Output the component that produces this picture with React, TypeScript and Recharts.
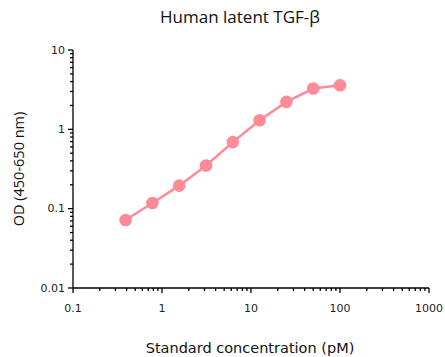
import React from 'react'
import { LineChart, Line, XAxis, YAxis, Label } from 'recharts'

// standard curve, log-log
const concentrations = [0.39, 0.78, 1.5625, 3.125, 6.25, 12.5, 25, 50, 100]
const odValues = [0.072, 0.118, 0.195, 0.35, 0.69, 1.3, 2.22, 3.27, 3.6]

const xMajorTicks = [0.1, 1, 10, 100, 1000]
const yMajorTicks = [0.01, 0.1, 1, 10]
const xTickLabels = ['0.1', '1', '10', '100', '1000']
const yTickLabels = ['0.01', '0.1', '1', '10']

const PINK = '#ff8a98'
const AXIS_FONT = '"DejaVu Sans", Verdana, sans-serif'

// minor ticks between each pair of decades (2..9 x decade)
function withMinors(majors: number[]): number[] {
  const out: number[] = []
  majors.forEach((m, i) => {
    out.push(m)
    if (i < majors.length - 1) {
      for (let k = 2; k <= 9; k++) out.push(+(m * k).toPrecision(3))
    }
  })
  return out
}

const data = concentrations.map((c, i) => ({ conc: c, od: odValues[i] }))

function labelFor(v: number, majors: number[], labels: string[]): string | null {
  const idx = majors.findIndex((m) => Math.abs(m - v) / m < 1e-6)
  return idx >= 0 ? labels[idx] : null
}

function XTick(props: any) {
  const { x, y, payload } = props
  const lbl = labelFor(payload.value, xMajorTicks, xTickLabels)
  const len = lbl ? 5 : 3
  return (
    <g>
      <line x1={x} y1={y} x2={x} y2={y + len} stroke="#000" strokeWidth={1.3} />
      {lbl && (
        <text x={x} y={y + 24} textAnchor="middle" fontSize={11} fontFamily={AXIS_FONT} fill="#222">
          {lbl}
        </text>
      )}
    </g>
  )
}

function YTick(props: any) {
  const { x, y, payload } = props
  const lbl = labelFor(payload.value, yMajorTicks, yTickLabels)
  const len = lbl ? 5 : 3
  return (
    <g>
      <line x1={x} y1={y} x2={x - len} y2={y} stroke="#000" strokeWidth={1.3} />
      {lbl && (
        <text x={x - 8} y={y} textAnchor="end" dominantBaseline="central" fontSize={11} fontFamily={AXIS_FONT} fill="#222">
          {lbl}
        </text>
      )}
    </g>
  )
}

function YTitle() {
  return (
    <text
      x={18}
      y={169}
      transform="rotate(-90, 18, 169)"
      textAnchor="middle"
      dominantBaseline="central"
      fontSize={14.5}
      fontFamily='"Open Sans", sans-serif'
      fill="#111"
    >
      OD (450-650 nm)
    </text>
  )
}

function XTitle() {
  return (
    <text x={250} y={348} textAnchor="middle" dominantBaseline="central" fontSize={14.5} fontFamily={AXIS_FONT} fill="#111">
      Standard concentration (pM)
    </text>
  )
}

export default function App(): React.ReactElement {
  return (
    <div style={{ position: 'absolute', left: 0, top: 0, width: 445, height: 357, background: '#fff' }}>
      <div
        style={{
          position: 'absolute',
          left: 0,
          top: 5,
          width: 480,
          textAlign: 'center',
          fontFamily: '"Open Sans", sans-serif',
          fontSize: 17,
          color: '#111',
        }}
      >
        Human latent TGF-β
      </div>
      <LineChart width={445} height={357} data={data} margin={{ top: 50, right: 16, bottom: 0, left: 0 }}>
        <XAxis
          dataKey="conc"
          type="number"
          scale="log"
          domain={[0.1, 1000]}
          ticks={withMinors(xMajorTicks)}
          interval={0}
          allowDataOverflow
          height={69}
          tickSize={0}
          tickMargin={0}
          tickLine={false}
          tick={<XTick />}
          axisLine={{ stroke: '#000', strokeWidth: 1.3 }}
        >
          <Label content={<XTitle />} />
        </XAxis>
        <YAxis
          dataKey="od"
          type="number"
          scale="log"
          domain={[0.01, 10]}
          ticks={withMinors(yMajorTicks)}
          interval={0}
          allowDataOverflow
          width={73}
          tickSize={0}
          tickMargin={0}
          tickLine={false}
          tick={<YTick />}
          axisLine={{ stroke: '#000', strokeWidth: 1.3 }}
        >
          <Label content={<YTitle />} />
        </YAxis>
        <Line
          type="linear"
          dataKey="od"
          stroke={PINK}
          strokeWidth={2.5}
          dot={{ r: 6.3, fill: PINK, stroke: 'none' }}
          activeDot={false}
          isAnimationActive={false}
        />
      </LineChart>
    </div>
  )
}
